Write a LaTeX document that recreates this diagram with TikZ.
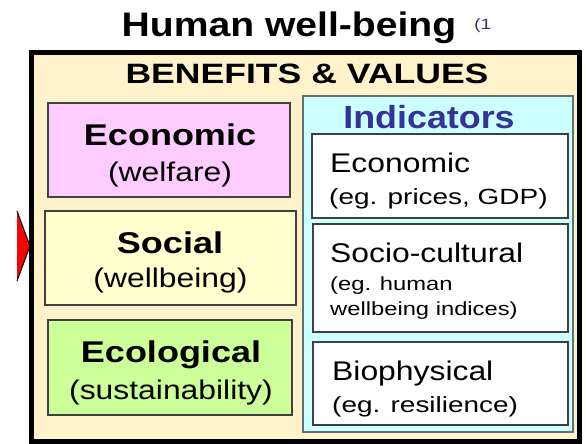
\documentclass[tikz,border=0pt]{standalone}
\usepackage{fontspec}
\setmainfont{Liberation Sans}
\newfontfamily\fTitle[FakeStretch=1.15]{Liberation Sans}
\newfontfamily\fBV[FakeStretch=1.27]{Liberation Sans}
\newfontfamily\fHead[FakeStretch=1.2]{Liberation Sans}
\newfontfamily\fInd[FakeStretch=1.12]{Liberation Sans}
\newfontfamily\fReg[FakeStretch=1.18]{Liberation Sans}
\newfontfamily\fSmall[FakeStretch=1.27]{Liberation Sans}
\newfontfamily\fTiny[FakeStretch=1.25]{Liberation Sans}
\newfontfamily\fNote[FakeStretch=1.3]{Liberation Sans}
\definecolor{beige}{RGB}{255,243,204}
\definecolor{pinkbox}{RGB}{255,204,255}
\definecolor{yelbox}{RGB}{255,255,208}
\definecolor{greenbox}{RGB}{204,255,153}
\definecolor{cyanbox}{RGB}{204,255,255}
\definecolor{boxline}{RGB}{64,64,64}
\definecolor{indline}{RGB}{96,112,112}
\definecolor{indtext}{RGB}{51,51,153}
\definecolor{notetext}{RGB}{60,50,110}
\tikzset{
  panel/.style={draw=boxline, line width=2pt, inner sep=0pt, rectangle},
  headtxt/.style={anchor=base, inner sep=0pt, font=\fHead\fontsize{30}{36}\selectfont\bfseries},
  regtxt/.style={inner sep=0pt, font=\fReg\fontsize{27}{32}\selectfont},
  smalltxt/.style={anchor=base west, inner sep=0pt, font=\fSmall\fontsize{22}{26}\selectfont},
  tinytxt/.style={anchor=base west, inner sep=0pt, font=\fTiny\fontsize{19}{23}\selectfont},
}
\begin{document}
\begin{tikzpicture}[x=1pt,y=-1pt]
\useasboundingbox (0,0) rectangle (586,444);
% red arrow
\coordinate (ra1) at (17,211);
\coordinate (ra2) at (30,246);
\coordinate (ra3) at (17,281);
\fill[red] (ra1) -- (ra2) -- (ra3) -- cycle;
\draw[black, line width=1pt] (ra1) -- (ra2) -- (ra3);
% outer box
\node[draw=black, fill=beige, line width=5pt, inner sep=0pt, minimum width=547.5pt, minimum height=388pt] (outer) at (305.25,247) {};
% title
\node[anchor=base, inner sep=0pt, font=\fTitle\fontsize{34}{40}\selectfont\bfseries] (title) at (289,37) {Human well-being};
\node[anchor=base west, inner sep=0pt, font=\fNote\fontsize{15}{18}\selectfont, text=notetext] (note) at (474,30) {(1};
\node[anchor=base, inner sep=0pt, font=\fBV\fontsize{28}{34}\selectfont\bfseries] (bv) at (307,83) {BENEFITS \& VALUES};
% left boxes
\node[panel, fill=pinkbox, minimum width=242pt, minimum height=94pt] (econ) at (169,150) {};
\node[panel, fill=yelbox, minimum width=251pt, minimum height=94pt] (soc) at (170.5,258) {};
\node[panel, fill=greenbox, minimum width=244pt, minimum height=95pt] (eco) at (170,367.5) {};
\node[headtxt] (econT) at (170,145) {Economic};
\node[regtxt, anchor=base] (econS) at (170,181) {(welfare)};
\node[headtxt] (socT) at (170,253) {Social};
\node[regtxt, anchor=base] (socS) at (170.5,287) {(wellbeing)};
\node[headtxt] (ecoT) at (171,362) {Ecological};
\node[regtxt, anchor=base] (ecoS) at (171,399) {(sustainability)};
% indicators
\node[draw=indline, line width=2pt, fill=cyanbox, inner sep=0pt, minimum width=270pt, minimum height=336pt] (ind) at (438,264) {};
\node[anchor=base, inner sep=0pt, text=indtext, font=\fInd\fontsize{32}{38}\selectfont\bfseries] (indT) at (429,128) {Indicators};
\node[panel, fill=white, minimum width=256pt, minimum height=84pt] (i1) at (440,176) {};
\node[panel, fill=white, minimum width=255pt, minimum height=108pt] (i2) at (440.5,278) {};
\node[panel, fill=white, minimum width=255pt, minimum height=83pt] (i3) at (440.5,383.5) {};
\node[regtxt, anchor=base west] (i1T) at (330,172) {Economic};
\node[smalltxt] (i1S) at (329,204) {(eg. prices, GDP)};
\node[regtxt, anchor=base west] (i2T) at (330,262) {Socio-cultural};
\node[tinytxt] (i2S) at (330,290) {(eg. human};
\node[tinytxt] (i2U) at (330,315) {wellbeing indices)};
\node[regtxt, anchor=base west] (i3T) at (332,380) {Biophysical};
\node[smalltxt] (i3S) at (332,412) {(eg. resilience)};
\end{tikzpicture}
\end{document}
